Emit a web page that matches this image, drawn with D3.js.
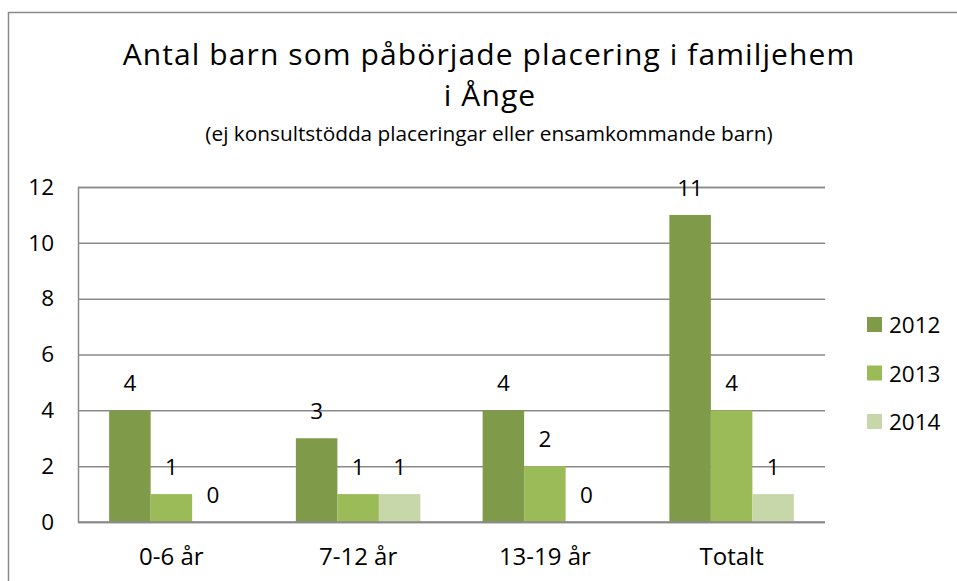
<!DOCTYPE html>
<html>
<head>
<meta charset="utf-8">
<script src="https://cdn.jsdelivr.net/npm/d3@7"></script>
<style>
  body { margin: 0; background: #fff; }
  svg { display: block; font-family: "Open Sans", sans-serif; }
</style>
</head>
<body>
<div id="chart-area"></div>
<script>
const categories = ["0-6 år", "7-12 år", "13-19 år", "Totalt"];
const years = ["2012", "2013", "2014"];
const values2012 = [4, 3, 4, 11];
const values2013 = [1, 1, 2, 4];
const values2014 = [0, 1, 0, 1];
const yTicks = [0, 2, 4, 6, 8, 10, 12];
const colors = ["#7f9a48", "#9bbb59", "#c8d7aa"];

const drawChart = () => {
  const WIDTH = 957;
  const HEIGHT = 581;
  const left = 78, right = 825, top = 187, bottom = 522;
  const NUM_SIZE = 22.5;
  const CAT_SIZE = 24;

  const series = [values2012, values2013, values2014];
  const rows = categories.map((c, i) => ({
    name: c,
    vals: years.map((y, j) => ({ year: y, value: series[j][i], idx: j }))
  }));

  const svg = d3.select("#chart-area")
    .append("svg")
    .attr("width", WIDTH)
    .attr("height", HEIGHT);

  // outer frame
  svg.append("rect")
    .attr("x", 8.5).attr("y", 12.5)
    .attr("width", WIDTH).attr("height", HEIGHT)
    .attr("fill", "none")
    .attr("stroke", "#8a8a8a")
    .attr("stroke-width", 1.5);

  // titles
  svg.append("text")
    .attr("x", 489).attr("y", 65)
    .attr("text-anchor", "middle")
    .attr("font-size", 30)
    .attr("letter-spacing", 1.1)
    .text("Antal barn som påbörjade placering i familjehem");
  svg.append("text")
    .attr("x", 490).attr("y", 106)
    .attr("text-anchor", "middle")
    .attr("font-size", 30)
    .attr("letter-spacing", 1.1)
    .text("i Ånge");
  svg.append("text")
    .attr("x", 489).attr("y", 141)
    .attr("text-anchor", "middle")
    .attr("font-size", 20.8)
    .text("(ej konsultstödda placeringar eller ensamkommande barn)");

  const y = d3.scaleLinear().domain([0, 12]).range([bottom, top]);

  const x0 = d3.scaleBand()
    .domain(categories)
    .range([left, right])
    .paddingInner(1 / 3)
    .paddingOuter(1 / 6);

  const x1 = d3.scaleBand()
    .domain(years)
    .range([0, x0.bandwidth()]);

  // gridlines + y labels
  const yAxis = d3.axisLeft(y)
    .tickValues(yTicks)
    .tickSize(-(right - left))
    .tickPadding(24);

  const gy = svg.append("g")
    .attr("transform", `translate(${left},0)`)
    .call(yAxis);
  gy.select(".domain").attr("stroke", "#8a8a8a").attr("stroke-width", 1.5);
  gy.selectAll(".tick line").attr("stroke", "#8a8a8a").attr("stroke-width", 1.5);
  gy.selectAll(".tick text")
    .attr("font-size", NUM_SIZE)
    .attr("font-family", "'Open Sans', sans-serif")
    .attr("fill", "#000");

  // bars
  const groups = svg.selectAll(".group")
    .data(rows)
    .enter()
    .append("g")
    .attr("transform", d => `translate(${x0(d.name)},0)`);

  groups.selectAll("rect")
    .data(d => d.vals)
    .enter()
    .append("rect")
    .attr("x", d => x1(d.year))
    .attr("y", d => y(d.value))
    .attr("width", x1.bandwidth())
    .attr("height", d => y(0) - y(d.value))
    .attr("fill", d => colors[d.idx]);

  groups.selectAll("text")
    .data(d => d.vals)
    .enter()
    .append("text")
    .attr("x", d => x1(d.year) + x1.bandwidth() / 2)
    .attr("y", d => y(d.value) - 19)
    .attr("text-anchor", "middle")
    .attr("font-size", NUM_SIZE)
    .text(d => d.value);

  // baseline on top of bars
  svg.append("line")
    .attr("x1", left).attr("x2", right)
    .attr("y1", y(0)).attr("y2", y(0))
    .attr("stroke", "#8a8a8a")
    .attr("stroke-width", 1.5);

  // category labels
  svg.selectAll(".cat")
    .data(categories)
    .enter()
    .append("text")
    .attr("x", d => x0(d) + x0.bandwidth() / 2)
    .attr("y", 565)
    .attr("text-anchor", "middle")
    .attr("font-size", CAT_SIZE)
    .text(d => d);

  // legend
  const legend = svg.selectAll(".legend")
    .data(years)
    .enter()
    .append("g")
    .attr("transform", (d, i) => `translate(867,${317 + i * 48.5})`);
  legend.append("rect")
    .attr("width", 15).attr("height", 15)
    .attr("fill", (d, i) => colors[i]);
  legend.append("text")
    .attr("x", 22).attr("y", 16)
    .attr("font-size", NUM_SIZE)
    .text(d => d);
};

window.onload = drawChart;
</script>
</body>
</html>
